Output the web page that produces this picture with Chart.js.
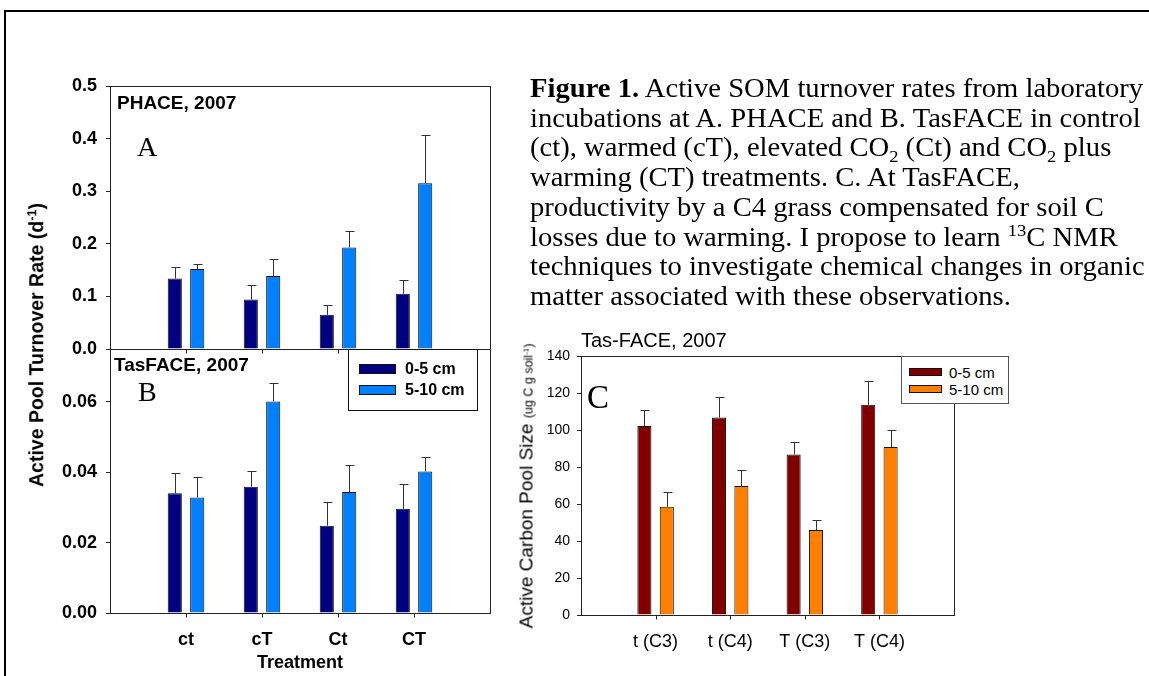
<!DOCTYPE html>
<html>
<head>
<meta charset="utf-8">
<script src="https://cdn.jsdelivr.net/npm/chart.js@4"></script>
<style>
  html, body { margin: 0; padding: 0; background: #fff; }
  #page { position: relative; width: 1149px; height: 676px; overflow: hidden; font-family: "Liberation Sans", Arial, sans-serif; color: #000; }
  #page canvas { position: absolute; left: 0; top: 0; }
  .txt { position: absolute; white-space: nowrap; line-height: 1; }
  .bold { font-weight: bold; }
  .serif { font-family: "Liberation Serif", "Times New Roman", serif; }
  .rot { transform: translate(-50%, -50%) rotate(-90deg); }
  sup, sub { font-size: 65%; line-height: 0; position: relative; vertical-align: baseline; }
  sup { top: -0.55em; }
  sub { top: 0.3em; }
  #frame { position: absolute; left: 4px; top: 10px; width: 1160px; height: 700px; border-top: 2px solid #000; border-left: 2px solid #000; }
  #caption { position: absolute; left: 530px; top: 74px; font-family: "Liberation Serif", "Times New Roman", serif; font-size: 27px; line-height: 29.7px; white-space: nowrap; transform: scaleX(1.06); transform-origin: 0 0; }
  .legend { position: absolute; background: #fff; }
  .legend .item { position: absolute; white-space: nowrap; line-height: 1; }
  .legend .swatch { position: absolute; border: 1px solid #111; box-sizing: border-box; }
</style>
</head>
<body>
<div id="page">
  <div id="frame"></div>
  <canvas id="chartA" width="1149" height="676"></canvas>
  <canvas id="chartB" width="1149" height="676"></canvas>
  <canvas id="chartC" width="1149" height="676"></canvas>

  <div id="caption"><b>Figure 1.</b> Active SOM turnover rates from laboratory<br>incubations at A. PHACE and B. TasFACE in control<br>(ct), warmed (cT), elevated CO<sub>2</sub> (Ct) and CO<sub>2</sub> plus<br>warming (CT) treatments. C. At TasFACE,<br>productivity by a C4 grass compensated for soil C<br>losses due to warming. I propose to learn <sup>13</sup>C NMR<br>techniques to investigate chemical changes in organic<br>matter associated with these observations.</div>

  <div class="txt bold" style="left:117px; top:93px; font-size:19px;">PHACE, 2007</div>
  <div class="txt serif" style="left:137px; top:133px; font-size:28px;">A</div>
  <div class="txt bold" style="left:114px; top:355px; font-size:19px;">TasFACE, 2007</div>
  <div class="txt serif" style="left:138px; top:378px; font-size:28px;">B</div>
  <div class="txt bold rot" style="left:37px; top:345px; font-size:19.5px;">Active Pool Turnover Rate (d<sup>-1</sup>)</div>

  <div class="txt" style="left:581px; top:330px; font-size:20px;">Tas-FACE, 2007</div>
  <div class="txt serif" style="left:587px; top:381px; font-size:33px;">C</div>
  <div class="txt rot" style="left:526px; top:486px; font-size:19px;">Active Carbon Pool Size <span style="font-size:12.5px;">(ug C g soil<sup>-1</sup>)</span></div>

  <div id="legendB" class="legend bold" style="left:348px; top:349px; width:130px; height:62px; border:1px solid #111; box-sizing:border-box; font-size:16px;"></div>
  <div id="legendC" class="legend" style="left:901px; top:356px; width:108px; height:48px; border:1px solid #555; box-sizing:border-box; font-size:15px;"></div>
</div>

<script>
// Data
const treatments = ['ct', 'cT', 'Ct', 'CT'];
const depths = ['0-5 cm', '5-10 cm'];

// A. PHACE, 2007 (d-1)
const phaceShallow = [0.134, 0.094, 0.065, 0.105];
const phaceShallowErr = [0.021, 0.028, 0.019, 0.026];
const phaceDeep = [0.152, 0.139, 0.193, 0.315];
const phaceDeepErr = [0.009, 0.032, 0.032, 0.091];
const phaceTicks = [0, 0.1, 0.2, 0.3, 0.4, 0.5];

// B. TasFACE, 2007 (d-1)
const tasShallow = [0.0340, 0.0359, 0.0248, 0.0296];
const tasShallowErr = [0.0057, 0.0045, 0.0067, 0.0071];
const tasDeep = [0.0328, 0.0601, 0.0344, 0.0402];
const tasDeepErr = [0.0059, 0.0051, 0.0077, 0.0041];
const tasTicks = [0, 0.02, 0.04, 0.06];

// C. Tas-FACE, 2007 (ug C g soil-1)
const pools = ['t (C3)', 't (C4)', 'T (C3)', 'T (C4)'];
const carbonShallow = [102.2, 106.7, 86.8, 113.7];
const carbonShallowErr = [8.4, 11.1, 6.9, 13.0];
const carbonDeep = [58.5, 69.7, 45.9, 90.8];
const carbonDeepErr = [7.8, 8.9, 5.5, 9.0];
const carbonTicks = [0, 20, 40, 60, 80, 100, 120, 140];

const blueColors = ['#000080', '#0080ff'];
const redColors = ['#800000', '#ff8000'];

Chart.defaults.font.family = '"Liberation Sans", Arial, sans-serif';
Chart.defaults.color = '#000';

// empty slot at each end so the groups sit on the inner ticks
const pad = arr => [null, ...arr, null];

// upward error bars with a cap
const errorBars = {
    id: 'errorBars',
    afterDatasetsDraw(chart) {
        const {ctx} = chart;
        const y = chart.scales.y;
        ctx.save();
        ctx.strokeStyle = '#333';
        ctx.lineWidth = 1;
        chart.data.datasets.forEach((ds, i) => {
            chart.getDatasetMeta(i).data.forEach((bar, j) => {
                const v = ds.data[j];
                const err = ds.errors[j];
                if (v == null || err == null) return;
                const top = Math.round(y.getPixelForValue(v + err)) + 0.5;
                const x = Math.round(bar.x) + 0.5;
                ctx.beginPath();
                ctx.moveTo(x, bar.y);
                ctx.lineTo(x, top);
                ctx.moveTo(x - 4, top);
                ctx.lineTo(x + 5, top);
                ctx.stroke();
            });
        });
        ctx.restore();
    }
};

// box round the plot area, plus outward tick marks under each group
const frame = {
    id: 'frame',
    afterDraw(chart) {
        const {ctx, chartArea: a} = chart;
        const x = chart.scales.x;
        ctx.save();
        ctx.strokeStyle = '#222';
        ctx.lineWidth = 1;
        const bottom = Math.round(a.bottom) + 0.5;
        ctx.strokeRect(Math.round(a.left) + 0.5, Math.round(a.top) + 0.5,
            Math.round(a.right - a.left), Math.round(a.bottom - a.top));
        ctx.beginPath();
        chart.data.labels.forEach((label, i) => {
            if (!label) return;
            const px = Math.round(x.getPixelForValue(i)) + 0.5;
            if (!isFinite(px)) return;
            ctx.moveTo(px, bottom);
            ctx.lineTo(px, bottom + 4);
        });
        ctx.stroke();
        ctx.restore();
    }
};

function makeBarChart(id, cfg) {
    const labels = pad(cfg.labels);
    return new Chart(document.getElementById(id), {
        type: 'bar',
        data: {
            labels: labels,
            datasets: cfg.series.map((s, i) => ({
                label: depths[i],
                data: pad(s.values),
                errors: pad(s.errors),
                backgroundColor: cfg.colors[i],
                borderColor: '#111',
                borderWidth: 1,
                categoryPercentage: cfg.catPct,
                barPercentage: 0.63
            }))
        },
        options: {
            responsive: false,
            animation: false,
            events: [],
            layout: { padding: cfg.padding },
            plugins: { legend: { display: false }, tooltip: { enabled: false } },
            scales: {
                x: {
                    offset: false,
                    grid: { display: false, tickLength: 4 },
                    border: { display: false },
                    ticks: {
                        display: cfg.showX,
                        autoSkip: false,
                        maxRotation: 0,
                        padding: 12,
                        font: cfg.xFont
                    },
                    title: cfg.xTitle ? {
                        display: true,
                        text: cfg.xTitle,
                        font: cfg.xFont,
                        padding: { top: 0, bottom: 2 }
                    } : { display: false },
                    afterFit: s => { s.height = cfg.xHeight; }
                },
                y: {
                    min: cfg.min,
                    max: cfg.max,
                    grid: { display: true, drawOnChartArea: false, drawTicks: true, tickLength: 4, color: '#222' },
                    border: { display: false },
                    afterBuildTicks: s => { s.ticks = cfg.ticks.map(v => ({ value: v })); },
                    ticks: {
                        padding: cfg.yPad,
                        font: cfg.yFont,
                        callback: v => v.toFixed(cfg.decimals)
                    },
                    afterFit: s => { s.width = cfg.yWidth; }
                }
            }
        },
        plugins: [errorBars, frame]
    });
}

const boldFont = { size: 18, weight: 'bold' };

// A. PHACE
makeBarChart('chartA', {
    labels: treatments,
    series: [
        { values: phaceShallow, errors: phaceShallowErr },
        { values: phaceDeep, errors: phaceDeepErr }
    ],
    colors: blueColors,
    catPct: 0.59,
    min: 0, max: 0.5, ticks: phaceTicks, decimals: 1,
    showX: false, xFont: boldFont, xHeight: 8,
    yFont: boldFont, yPad: 9, yWidth: 60,
    padding: { left: 50, right: 659, top: 86, bottom: 676 - 349 - 8 }
});

// B. TasFACE
makeBarChart('chartB', {
    labels: treatments,
    series: [
        { values: tasShallow, errors: tasShallowErr },
        { values: tasDeep, errors: tasDeepErr }
    ],
    colors: blueColors,
    catPct: 0.59,
    min: 0, max: 0.075, ticks: tasTicks, decimals: 2,
    showX: true, xFont: boldFont, xHeight: 63, xTitle: 'Treatment',
    yFont: boldFont, yPad: 9, yWidth: 60,
    padding: { left: 50, right: 659, top: 349, bottom: 0 }
});

// C. Tas-FACE carbon pool
makeBarChart('chartC', {
    labels: pools,
    series: [
        { values: carbonShallow, errors: carbonShallowErr },
        { values: carbonDeep, errors: carbonDeepErr }
    ],
    colors: redColors,
    catPct: 0.6,
    min: 0, max: 140, ticks: carbonTicks, decimals: 0,
    showX: true, xFont: { size: 18 }, xHeight: 61,
    yFont: { size: 14 }, yPad: 7, yWidth: 50,
    padding: { left: 531, right: 195, top: 356, bottom: 0 }
});

// legends
function fillLegend(id, colors, sw, rows, textX) {
    const box = document.getElementById(id);
    depths.forEach((name, i) => {
        const s = document.createElement('div');
        s.className = 'swatch';
        s.style.cssText = `left:${sw.x}px; top:${rows[i] - sw.h / 2}px; width:${sw.w}px; height:${sw.h}px; background:${colors[i]};`;
        box.appendChild(s);
        const t = document.createElement('div');
        t.className = 'item';
        t.textContent = name;
        t.style.left = textX + 'px';
        t.style.top = (rows[i] - box.style.fontSize.replace('px', '') / 2) + 'px';
        box.appendChild(t);
    });
}
fillLegend('legendB', blueColors, { x: 10, w: 37, h: 10 }, [19, 40], 56);
fillLegend('legendC', redColors, { x: 7, w: 33, h: 8 }, [15, 32], 47);
</script>
</body>
</html>
